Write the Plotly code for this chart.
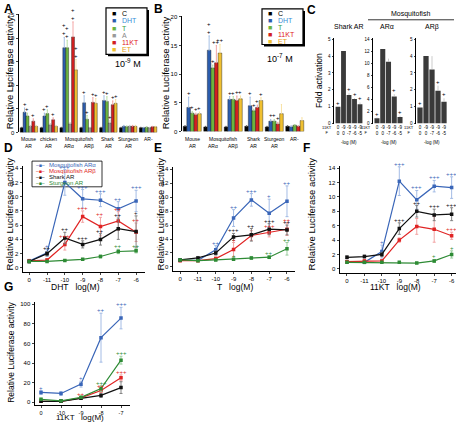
import plotly.graph_objects as go

W, H = 456, 425
FONT = "Arial, Liberation Sans, Helvetica, sans-serif"


def fx(p):
    return p / W


def fy(p):
    return 1 - p / H


# ---------------- Panel A data (10^-9 M) ----------------
A_groups = ["Mouse AR", "chicken AR", "Mosquitofish ARα", "Mosquitofish ARβ", "Shark AR", "Sturgeon AR", "AR-"]
A_label1 = ["Mouse", "chicken", "", "", "Shark", "Sturgeon", "AR-"]
A_label2 = ["AR", "AR", "ARα", "ARβ", "AR", "AR", ""]
A_series = ["C", "DHT", "T", "A", "11KT", "ET"]
A_C = [1.0, 1.0, 1.0, 1.0, 1.0, 1.0, 1.0]
A_DHT = [4.3, 3.5, 18.0, 6.3, 6.8, 1.3, 1.0]
A_T = [3.5, 4.0, 18.0, 2.8, 6.6, 1.2, 1.1]
A_A = [1.3, 1.6, 1.8, 1.0, 2.0, 1.3, 1.0]
A_11KT = [2.4, 2.7, 20.3, 6.4, 5.9, 1.3, 1.2]
A_ET = [1.3, 1.3, 13.3, 6.2, 6.2, 1.3, 1.2]
A_C_err = [0.1, 0.1, 0.1, 0.1, 0.1, 0.1, 0.1]
A_DHT_err = [0.9, 0.6, 2.2, 1.5, 1.0, 0.2, 0.1]
A_T_err = [0.6, 0.8, 1.6, 0.8, 1.0, 0.2, 0.1]
A_A_err = [0.2, 0.3, 0.3, 0.1, 0.5, 0.2, 0.1]
A_11KT_err = [0.5, 0.4, 3.2, 1.0, 0.8, 0.2, 0.1]
A_ET_err = [0.2, 0.2, 2.2, 1.0, 0.8, 0.2, 0.1]
A_C_sig = ["", "", "", "", "", "", ""]
A_DHT_sig = ["+", "+", "+<br>+", "+", "+", "", ""]
A_T_sig = ["+", "+", "+<br>+", "+", "+", "", ""]
A_A_sig = ["", "", "", "", "+", "", ""]
A_11KT_sig = ["+", "+", "+<br>+", "+", "+", "", ""]
A_ET_sig = ["", "", "+<br>+", "+", "+", "", ""]

# ---------------- Panel B data (10^-7 M) ----------------
B_groups = ["Mouse AR", "Mosquitofish ARα", "Mosquitofish ARβ", "Shark AR", "Sturgeon AR", "AR-"]
B_label1 = ["Mouse", "", "", "Shark", "Sturgeon", "AR-"]
B_label2 = ["AR", "ARα", "ARβ", "AR", "AR", ""]
B_series = ["C", "DHT", "T", "11KT", "ET"]
B_C = [0.9, 0.8, 0.8, 0.9, 0.8, 0.9]
B_DHT = [4.2, 14.2, 5.6, 4.5, 1.8, 0.8]
B_T = [3.2, 11.1, 5.6, 3.6, 1.8, 1.1]
B_11KT = [2.9, 12.0, 5.4, 4.2, 1.3, 0.9]
B_ET = [3.1, 13.7, 5.7, 5.4, 3.1, 1.9]
B_C_err = [0.1, 0.1, 0.1, 0.1, 0.1, 0.1]
B_DHT_err = [1.8, 2.5, 0.5, 1.5, 0.3, 0.2]
B_T_err = [0.3, 0.5, 0.5, 0.3, 0.3, 0.1]
B_11KT_err = [0.3, 3.0, 0.8, 0.4, 0.3, 0.1]
B_ET_err = [0.3, 1.5, 0.5, 0.5, 1.6, 0.5]
B_C_sig = ["", "", "", "", "", ""]
B_DHT_sig = ["+", "+<br>+", "+", "+", "+", ""]
B_T_sig = ["+", "+", "+", "+", "+", ""]
B_11KT_sig = ["+", "++", "+", "+", "+", ""]
B_ET_sig = ["+", "++", "+", "+", "", ""]

# ---------------- Panel C data (fold activation) ----------------
C_11KT = ["0", "-9", "-9", "-9", "-9"]
C_F = ["0", "0", "-7", "-6", "-5"]
C_cats = [f"11KT {a} / F {b}" for a, b in zip(C_11KT, C_F)]
C_shark = [1.0, 4.3, 1.7, 1.45, 1.15]
C_alpha = [0.9, 12.4, 10.3, 4.5, 1.1]
C_beta = [0.95, 4.0, 3.2, 1.95, 1.3]
C_shark_err = [0.0, 0.0, 0.1, 0.05, 0.1]
C_alpha_err = [0.1, 0.0, 0.5, 0.4, 0.2]
C_beta_err = [0.05, 0.0, 0.8, 0.3, 0.2]
C_shark_sig = ["+", "", "+", "+", "+"]
C_alpha_sig = ["+", "", "", "+", "+"]
C_beta_sig = ["+", "", "", "+", "+"]

# ---------------- Dose-response data ----------------
D_x = ["0", "-11", "-10", "-9", "-8", "-7", "-6"]
D_alpha = [0.95, 2.1, 12.0, 9.7, 9.5, 8.3, 9.4]
D_beta = [1.0, 1.1, 3.3, 7.2, 5.8, 6.6, 5.0]
D_shark = [0.9, 2.0, 4.2, 3.3, 4.0, 5.5, 5.1]
D_sturg = [0.9, 0.9, 1.05, 1.2, 1.6, 2.3, 2.4]
D_alpha_err = [0.2, 0.5, 1.8, 1.3, 0.9, 1.0, 1.5]
D_beta_err = [0.2, 0.2, 0.8, 0.8, 1.3, 1.3, 1.3]
D_shark_err = [0.2, 0.3, 0.8, 0.5, 0.8, 1.5, 2.2]
D_sturg_err = [0.1, 0.1, 0.1, 0.1, 0.2, 0.3, 0.3]
D_alpha_sig = ["", "+", "+++", "+++", "+++", "++", "+++"]
D_beta_sig = ["", "", "+++", "+++", "++", "++", "++"]
D_shark_sig = ["", "++", "++", "+++", "++", "++", "+"]
D_sturg_sig = ["", "", "", "", "", "++", "++"]

E_x = ["0", "-11", "-10", "-9", "-8", "-7", "-6"]
E_alpha = [0.95, 0.95, 2.45, 7.0, 9.6, 7.7, 9.4]
E_beta = [0.9, 0.9, 1.2, 2.5, 4.5, 4.9, 5.4]
E_shark = [1.0, 1.3, 2.0, 4.3, 4.6, 5.4, 5.3]
E_sturg = [1.0, 0.9, 1.0, 1.1, 1.3, 1.4, 2.6]
E_alpha_err = [0.2, 0.2, 0.6, 1.2, 0.9, 2.0, 2.2]
E_beta_err = [0.1, 0.1, 0.2, 1.0, 0.7, 0.6, 0.9]
E_shark_err = [0.1, 0.2, 0.3, 0.5, 0.9, 0.8, 0.7]
E_sturg_err = [0.1, 0.1, 0.1, 0.1, 0.2, 0.2, 0.9]
E_alpha_sig = ["", "", "++", "++", "+++", "+", "++"]
E_beta_sig = ["", "", "", "+", "", "+++", "++"]
E_shark_sig = ["", "", "", "+++", "++", "+++", "++"]
E_sturg_sig = ["", "", "", "+", "", "++", "++"]

F_x = ["0", "-11", "-10", "-9", "-8", "-7", "-6"]
F_alpha = [1.0, 0.9, 2.4, 12.2, 9.6, 11.5, 11.3]
F_beta = [1.0, 1.1, 1.1, 4.0, 5.9, 5.5, 4.6]
F_shark = [1.6, 1.7, 2.0, 5.6, 8.0, 7.5, 7.6]
F_sturg = [0.9, 0.9, 0.9, 0.9, 0.8, 1.1, 2.0]
F_alpha_err = [0.2, 0.2, 0.9, 2.0, 1.3, 0.8, 1.5]
F_beta_err = [0.2, 0.2, 0.2, 0.3, 1.1, 1.8, 0.5]
F_shark_err = [0.2, 0.2, 0.3, 0.8, 0.8, 0.8, 0.9]
F_sturg_err = [0.1, 0.1, 0.1, 0.1, 0.1, 0.2, 0.5]
F_alpha_sig = ["", "", "+", "+++", "+++", "+++", "+++"]
F_beta_sig = ["", "", "", "", "", "", "+++"]
F_shark_sig = ["", "", "", "+++", "++", "+++", "+++"]
F_sturg_sig = ["", "", "", "", "", "+", "+"]

G_x = ["0", "-10", "-9", "-8", "-7"]
G_alpha = [10.0, 9.0, 18.5, 66.0, 86.0]
G_beta = [1.0, 1.0, 4.5, 12.0, 25.0]
G_shark = [1.0, 1.0, 4.0, 7.0, 15.0]
G_sturg = [3.0, 1.5, 5.0, 14.0, 43.0]
G_alpha_err = [2.0, 2.0, 3.0, 25.0, 11.0]
G_beta_err = [1.0, 1.0, 1.0, 2.0, 3.0]
G_shark_err = [0.5, 0.5, 1.0, 2.0, 6.0]
G_sturg_err = [1.0, 1.0, 1.0, 3.0, 4.0]
G_alpha_sig = ["+", "", "+", "++", "+++"]
G_beta_sig = ["", "", "++", "++", "+++"]
G_shark_sig = ["", "", "", "", ""]
G_sturg_sig = ["", "", "", "+++", "+++"]

LINE_NAMES = ["Mosquitofish ARα", "Mosquitofish ARβ", "Shark AR", "Sturgeon AR"]

# ---------------- styling ----------------
BAR_COL = {"C": "#000000", "DHT": "#2b5cad", "T": "#6cb33f", "A": "#9a9a9a", "11KT": "#d22020", "ET": "#f0c030"}
BAR_ERR = {"C": "#555555", "DHT": "#8fb0e0", "T": "#a8d890", "A": "#c8c8c8", "11KT": "#f09090", "ET": "#f6dc90"}
LEG_TXT = {"C": "#000000", "DHT": "#3b8fd8", "T": "#3aa040", "A": "#888888", "11KT": "#e02020", "ET": "#e8a020"}
LINE_COL = ["#3a66b8", "#e02424", "#111111", "#2e8b35"]
LINE_ERR = ["#9ab4e2", "#f09a9a", "#777777", "#8fc894"]

fig = go.Figure()
annotations = []
shapes = []
BARGAP = 0.12


def ann(x, y, text, size=7, color="black", xanchor="center", yanchor="middle", angle=0, bold=False, **kw):
    t = f"<b>{text}</b>" if bold else text
    d = dict(x=x, y=y, xref="paper", yref="paper", text=t, showarrow=False,
             font=dict(size=size, color=color, family=FONT), xanchor=xanchor,
             yanchor=yanchor, textangle=angle)
    d.update(kw)
    annotations.append(d)


def bar_panel(n, groups, names, vals, errs, sigs, dom_px, lab1, lab2, ylab1, mosq_x):
    xa = "x" if n == 1 else f"x{n}"
    ya = "y" if n == 1 else f"y{n}"
    ns = len(names)
    bw = (dom_px[1] - dom_px[0]) / len(groups) * (1 - BARGAP) / ns
    for i, (nm, v, e, s) in enumerate(zip(names, vals, errs, sigs)):
        col = BAR_COL.get(nm, "#333333")
        ecol = BAR_ERR.get(nm, "#888888")
        fig.add_trace(go.Bar(
            x=groups, y=v, name=nm, xaxis=xa, yaxis=ya, showlegend=False,
            marker=dict(color=col, line=dict(color="#111111", width=0.4)),
            error_y=dict(type="data", array=e, arrayminus=[0] * len(e), symmetric=False,
                         color=ecol, thickness=0.8, width=0.6)))
        shift = (i - (ns - 1) / 2) * bw
        for gi, (val, er, st) in enumerate(zip(v, e, s)):
            if st:
                annotations.append(dict(x=gi, y=val + er, xref=xa, yref=ya, text=st,
                                        showarrow=False, xshift=shift, yshift=-1,
                                        yanchor="bottom", font=dict(size=6, color="black", family=FONT)))
    # group labels (two lines) under the bars
    for gi, (l1, l2) in enumerate(zip(lab1, lab2)):
        if l1:
            annotations.append(dict(x=gi, y=fy(ylab1), xref=xa, yref="paper", text=l1, showarrow=False,
                                    yanchor="middle", font=dict(size=5, family=FONT, color="black")))
        if l2:
            annotations.append(dict(x=gi, y=fy(ylab1 + 7), xref=xa, yref="paper", text=l2, showarrow=False,
                                    yanchor="middle", font=dict(size=5, family=FONT, color="black")))
    annotations.append(dict(x=mosq_x, y=fy(ylab1), xref=xa, yref="paper", text="Mosquitofish",
                            showarrow=False, yanchor="middle", font=dict(size=5, family=FONT, color="black")))


def line_panel(n, xs, series, errs, sigs):
    xa = f"x{n}"
    ya = f"y{n}"
    for i, (v, e, s) in enumerate(zip(series, errs, sigs)):
        fig.add_trace(go.Scatter(
            x=xs, y=v, mode="lines+markers", xaxis=xa, yaxis=ya, showlegend=False,
            name=LINE_NAMES[i],
            line=dict(color=LINE_COL[i], width=1.2),
            marker=dict(color=LINE_COL[i], size=3.5, symbol="square"),
            error_y=dict(type="data", array=e, color=LINE_ERR[i], thickness=0.9, width=1.5)))
        for xi, (val, er, st) in enumerate(zip(v, e, s)):
            if st:
                annotations.append(dict(x=xi, y=val + er, xref=xa, yref=ya, text=st,
                                        showarrow=False, yanchor="bottom", yshift=-2,
                                        font=dict(size=6, color=LINE_COL[i], family=FONT)))


# ---- A ----
A_dom = (19, 158)
bar_panel(1, A_groups, A_series,
          [A_C, A_DHT, A_T, A_A, A_11KT, A_ET],
          [A_C_err, A_DHT_err, A_T_err, A_A_err, A_11KT_err, A_ET_err],
          [A_C_sig, A_DHT_sig, A_T_sig, A_A_sig, A_11KT_sig, A_ET_sig], A_dom, A_label1, A_label2, 139, 2.5)
# ---- B ----
B_dom = (182, 305)
bar_panel(2, B_groups, B_series,
          [B_C, B_DHT, B_T, B_11KT, B_ET],
          [B_C_err, B_DHT_err, B_T_err, B_11KT_err, B_ET_err],
          [B_C_sig, B_DHT_sig, B_T_sig, B_11KT_sig, B_ET_sig], B_dom, B_label1, B_label2, 138.5, 1.5)

# ---- C ----
C_doms = [(334, 364), (373, 404), (416, 448)]
for k, (vals, errs, sig) in enumerate([(C_shark, C_shark_err, C_shark_sig),
                                       (C_alpha, C_alpha_err, C_alpha_sig),
                                       (C_beta, C_beta_err, C_beta_sig)]):
    n = 3 + k
    fig.add_trace(go.Bar(x=C_cats, y=vals, xaxis=f"x{n}", yaxis=f"y{n}", showlegend=False,
                         marker=dict(color="#3a3a3a", line=dict(width=0)),
                         error_y=dict(type="data", array=errs, arrayminus=[0] * 5, symmetric=False,
                                      color="#aaaaaa", thickness=0.6, width=0)))
    for ci, (v, e, s) in enumerate(zip(vals, errs, sig)):
        if s:
            annotations.append(dict(x=ci, y=v + e, xref=f"x{n}", yref=f"y{n}", text=s, showarrow=False,
                                    yanchor="bottom", yshift=-1, font=dict(size=6, color="black", family=FONT)))

# ---- D, E, F, G ----
line_panel(6, D_x, [D_alpha, D_beta, D_shark, D_sturg], [D_alpha_err, D_beta_err, D_shark_err, D_sturg_err],
           [D_alpha_sig, D_beta_sig, D_shark_sig, D_sturg_sig])
line_panel(7, E_x, [E_alpha, E_beta, E_shark, E_sturg], [E_alpha_err, E_beta_err, E_shark_err, E_sturg_err],
           [E_alpha_sig, E_beta_sig, E_shark_sig, E_sturg_sig])
line_panel(8, F_x, [F_alpha, F_beta, F_shark, F_sturg], [F_alpha_err, F_beta_err, F_shark_err, F_sturg_err],
           [F_alpha_sig, F_beta_sig, F_shark_sig, F_sturg_sig])
line_panel(9, G_x, [G_alpha, G_beta, G_shark, G_sturg], [G_alpha_err, G_beta_err, G_shark_err, G_sturg_err],
           [G_alpha_sig, G_beta_sig, G_shark_sig, G_sturg_sig])

# ---------------- axes ----------------
TF = dict(size=6, family=FONT, color="black")


def yax(anchor, dom_y, rng, dtick, tf=TF, **kw):
    d = dict(domain=[fy(dom_y[1]), fy(dom_y[0])], range=rng, anchor=anchor, showline=True,
             linecolor="black", linewidth=1, ticks="outside", ticklen=2.5, tickwidth=1,
             dtick=dtick, tick0=0, tickfont=tf, showgrid=False, zeroline=False)
    d.update(kw)
    return d


def xcat(anchor, dom_x, **kw):
    d = dict(domain=[fx(dom_x[0]), fx(dom_x[1])], anchor=anchor, type="category",
             showgrid=False, zeroline=False, tickfont=TF, tickangle=0)
    d.update(kw)
    return d


layout_axes = {}
layout_axes["xaxis"] = xcat("y", A_dom, showline=False, ticks="", showticklabels=False)
layout_axes["yaxis"] = yax("x", (12, 132), [0, 25.2], 5)
layout_axes["xaxis2"] = xcat("y2", B_dom, showline=False, ticks="", showticklabels=False)
layout_axes["yaxis2"] = yax("x2", (14, 131), [0, 20.2], 5)

TF_C = dict(size=4.5, family=FONT, color="black")
c_ticktext = [f"{a}<br>{b}" for a, b in zip(C_11KT, C_F)]
for k, (dom, rng, dt) in enumerate(zip(C_doms, [[0, 5.1], [0, 14.3], [0, 5.1]], [1, 2, 1])):
    n = 3 + k
    layout_axes[f"xaxis{n}"] = xcat(f"y{n}", dom, showline=False, ticks="", tickvals=C_cats,
                                    ticktext=c_ticktext, tickfont=TF_C)
    layout_axes[f"yaxis{n}"] = yax(f"x{n}", (36, 123), rng, dt, tf=TF_C, ticklen=1.5)

line_axes = {
    6: ((23, 145), (166, 273), [-0.35, 6.5], [-0.55, 14.3], 2),
    7: ((173, 295), (167, 272), [-0.4, 6.45], [-0.55, 14.3], 2),
    8: ((340, 456), (166, 274), [-0.4, 6.25], [-0.55, 14.3], 2),
    9: ((35, 130), (304, 408), [-0.3, 4.45], [-3, 102], 20),
}
for n, (dx, dy, xr, yr, dt) in line_axes.items():
    layout_axes[f"xaxis{n}"] = xcat(f"y{n}", dx, range=xr, showline=True, linecolor="black", linewidth=1,
                                    ticks="outside", ticklen=2, tickfont=dict(size=5.5 if n == 9 else 6,
                                                                              family=FONT, color="black"))
    layout_axes[f"yaxis{n}"] = yax(f"x{n}", dy, yr, dt)

# ---------------- text & legends ----------------
for letter, (px, py) in zip("ABCDEFG", [(8, 7), (158, 7), (311, 8), (8, 148), (158, 148), (306, 148), (8, 288)]):
    ann(fx(px), fy(py), letter, size=12, bold=True)

ylab = "Relative Luciferase activity"
ann(fx(9), fy(72), ylab, size=9.5, angle=-90)
ann(fx(165), fy(72), ylab, size=9.5, angle=-90)
ann(fx(9), fy(215), ylab, size=9.5, angle=-90)
ann(fx(160), fy(215), ylab, size=9.5, angle=-90)
ann(fx(311), fy(215), ylab, size=9.5, angle=-90)
ann(fx(11), fy(355), ylab, size=8.5, angle=-90)
ann(fx(319), fy(80), "Fold activation", size=8.5, angle=-90)

# x titles for dose-response
ann(fx(75), fy(288), "DHT   log(M)", size=8.5)
ann(fx(235), fy(288), "T   log(M)", size=8.5)
ann(fx(395), fy(288), "11KT   log(M)", size=8.5)
ann(fx(80), fy(420), "11KT   log(M)", size=8)

# concentration labels
ann(fx(128), fy(62), "10<sup>-9</sup> M", size=9)
ann(fx(280), fy(57), "10<sup>-7</sup> M", size=9)

# Panel C headers
ann(fx(349), fy(25), "Shark AR", size=7)
ann(fx(410), fy(12), "Mosquitofish", size=7)
shapes.append(dict(type="line", xref="paper", yref="paper", x0=fx(368), x1=fx(454), y0=fy(18), y1=fy(18),
                   line=dict(color="black", width=0.8)))
ann(fx(387), fy(25), "ARα", size=7)
ann(fx(432), fy(25), "ARβ", size=7)
for dom in C_doms:
    ann(fx(dom[0]), fy(130), "11KT<br>F", size=4, xanchor="right")
    ann(fx((dom[0] + dom[1]) / 2), fy(142), "-log (M)", size=4.5)


def legend_box(x0, y0, x1, y1):
    shapes.append(dict(type="rect", xref="paper", yref="paper", x0=fx(x0 + 2), x1=fx(x1 + 2),
                       y0=fy(y1 + 2), y1=fy(y0 + 2), fillcolor="black", line=dict(width=0)))
    shapes.append(dict(type="rect", xref="paper", yref="paper", x0=fx(x0), x1=fx(x1),
                       y0=fy(y1), y1=fy(y0), fillcolor="white", line=dict(color="black", width=1.2)))


legend_box(106, 6, 147, 53)
for i, nm in enumerate(A_series):
    yy = 12 + i * 7.2
    ann(fx(114), fy(yy), "■", size=7, color=BAR_COL[nm])
    ann(fx(120), fy(yy), nm, size=7, color=LEG_TXT[nm], xanchor="left")

legend_box(262, 7, 303, 43)
for i, nm in enumerate(B_series):
    yy = 12 + i * 7
    ann(fx(270), fy(yy), "■", size=7, color=BAR_COL[nm])
    ann(fx(276), fy(yy), nm, size=7, color=LEG_TXT[nm], xanchor="left")

shapes.append(dict(type="rect", xref="paper", yref="paper", x0=fx(32), x1=fx(102), y0=fy(187), y1=fy(161),
                   fillcolor="rgba(0,0,0,0)", line=dict(color="black", width=0.8), layer="below"))
for i, nm in enumerate(LINE_NAMES):
    yy = 165 + i * 6.2
    ann(fx(40), fy(yy), "–■–", size=5, color=LINE_COL[i])
    ann(fx(47), fy(yy), nm, size=6, color=LINE_COL[i], xanchor="left")

fig.update_layout(
    width=W, height=H, autosize=False,
    margin=dict(l=0, r=0, t=0, b=0),
    paper_bgcolor="white", plot_bgcolor="rgba(0,0,0,0)",
    barmode="group", bargap=BARGAP, bargroupgap=0,
    showlegend=False,
    font=dict(family=FONT, size=7, color="black"),
    annotations=annotations, shapes=shapes,
    **layout_axes,
)

fig.write_html("out.html", config={"displayModeBar": False},
               post_script="document.body.style.margin='0px';")
